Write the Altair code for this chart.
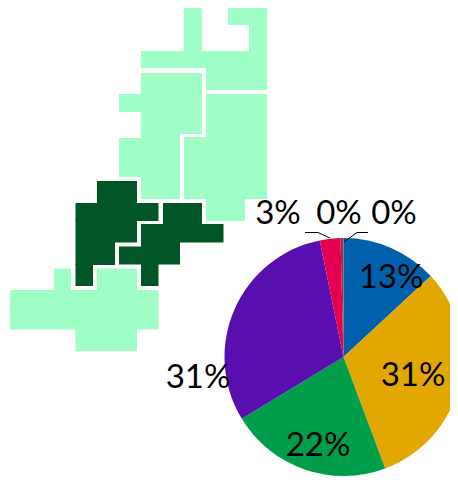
import altair as alt
import pandas as pd

# Map blocks: (left, right, top, bottom)
LIGHT = "#9FFFC6"
DARK = "#005627"
north = [(184, 202, 8, 52), (228, 267, 8, 25), (249, 267, 24, 52), (141, 267, 51, 68), (206, 267, 67, 90)]
west = [(141, 202, 73, 134), (119, 142, 94, 112), (141, 180, 133, 199), (119, 142, 138, 177)]
east = [(206, 267, 94, 138), (184, 267, 137, 199), (206, 245, 198, 221)]
centre = [(97, 137, 181, 204), (75.5, 158.5, 203, 221), (75.5, 137, 220, 242.5), (75.5, 115, 242, 265), (75.5, 93, 264, 286)]
south = [(163, 202, 203, 225), (141, 223.5, 224, 242.5), (141, 180, 242, 247), (119, 180, 246.5, 264.5), (141, 158.5, 264, 286)]
southwest = [(54, 71, 268.5, 291), (97, 137, 268.5, 291), (10, 158.5, 290, 329.5), (75.5, 137, 329, 351)]

# Pie
shares = [13.1, 31.2, 22.0, 30.5, 2.8, 0.35, 0.05]
slice_colors = ["#0060AC", "#E2A800", "#009E4A", "#590FAF", "#E5004F", "#A32A3A", "#5A5A5A"]
pie_centre = (343.5, 357)

# Labels
label_text = ["13%", "31%", "22%", "31%", "3%", "0%", "0%"]
label_x = [391, 413, 318, 198, 278, 339, 394]
label_y = [278, 376, 446, 378, 214, 214, 214]

# Leader lines
leader_id = [0, 0, 0, 1, 1, 1]
leader_x = [305, 318, 330, 368, 357, 344]
leader_y = [232.5, 232.5, 238, 232.5, 232.5, 242]

blocks = []
for group, color in [(north, LIGHT), (west, LIGHT), (east, LIGHT), (southwest, LIGHT), (centre, DARK), (south, DARK)]:
    for a, b, c, d in group:
        blocks.append({"x0": a, "x1": b, "y0": c, "y1": d, "c": color})

xs = alt.Scale(domain=[8, 450], nice=False, zero=False)
ys = alt.Scale(domain=[480, 8], nice=False, zero=False)

rects = alt.Chart(pd.DataFrame(blocks)).mark_rect(strokeWidth=0).encode(
    x=alt.X("x0:Q", scale=xs, axis=None),
    x2="x1:Q",
    y=alt.Y("y0:Q", scale=ys, axis=None),
    y2="y1:Q",
    color=alt.Color("c:N", scale=None, legend=None),
)

pie_df = pd.DataFrame({
    "share": shares, "i": range(len(shares)), "col": slice_colors,
    "cx": pie_centre[0], "cy": pie_centre[1],
})
pie = alt.Chart(pie_df).mark_arc(radius=119).encode(
    x=alt.X("cx:Q", scale=xs, axis=None),
    y=alt.Y("cy:Q", scale=ys, axis=None),
    theta=alt.Theta("share:Q", stack=True),
    order=alt.Order("i:Q"),
    color=alt.Color("col:N", scale=None, legend=None),
)

leaders = alt.Chart(pd.DataFrame({"id": leader_id, "x": leader_x, "y": leader_y, "o": range(6)})).mark_line(
    color="#000000", strokeWidth=1
).encode(
    x=alt.X("x:Q", scale=xs, axis=None),
    y=alt.Y("y:Q", scale=ys, axis=None),
    detail="id:N",
    order="o:Q",
)

labels = alt.Chart(pd.DataFrame({"t": label_text, "x": label_x, "y": label_y})).mark_text(
    font="Lato", fontSize=33, color="#000000", align="center", baseline="middle"
).encode(
    x=alt.X("x:Q", scale=xs, axis=None),
    y=alt.Y("y:Q", scale=ys, axis=None),
    text="t:N",
)

chart = alt.layer(rects, pie, leaders, labels).properties(
    width=442, height=472, padding=0,
    autosize=alt.AutoSizeParams(type="none"),
).configure_view(stroke=None)

chart.save("out.html", embed_options={"renderer": "svg", "actions": False})
